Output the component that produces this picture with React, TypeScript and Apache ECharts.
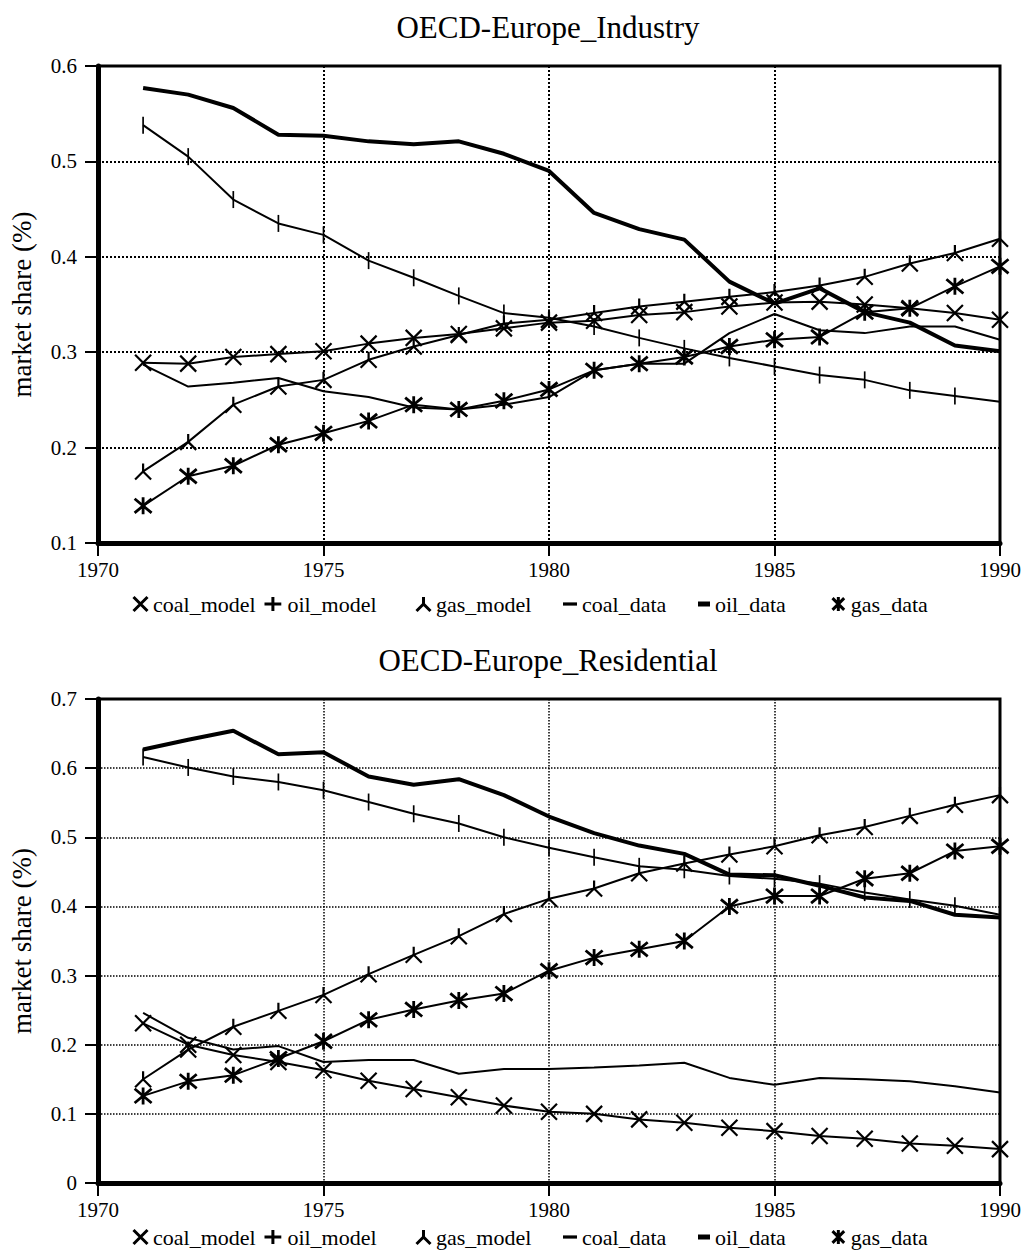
import React, { useEffect, useRef } from "react";
import * as echarts from "echarts";

// ---------- data ----------
const years = [1971, 1972, 1973, 1974, 1975, 1976, 1977, 1978, 1979, 1980, 1981, 1982, 1983, 1984, 1985, 1986, 1987, 1988, 1989, 1990];

const industryTitle = "OECD-Europe_Industry";
const residentialTitle = "OECD-Europe_Residential";
const yAxisName = "market share (%)";
const seriesNames = ["coal_model", "oil_model", "gas_model", "coal_data", "oil_data", "gas_data"];

// OECD-Europe Industry
const indCoalModel = [0.289, 0.288, 0.295, 0.298, 0.301, 0.309, 0.315, 0.319, 0.325, 0.331, 0.333, 0.339, 0.342, 0.348, 0.352, 0.353, 0.350, 0.346, 0.341, 0.334];
const indOilModel = [0.538, 0.505, 0.460, 0.435, 0.423, 0.396, 0.378, 0.359, 0.341, 0.336, 0.327, 0.315, 0.304, 0.294, 0.285, 0.276, 0.271, 0.260, 0.254, 0.248];
const indGasModel = [0.175, 0.206, 0.245, 0.264, 0.271, 0.292, 0.306, 0.318, 0.330, 0.334, 0.341, 0.348, 0.353, 0.358, 0.363, 0.370, 0.379, 0.393, 0.404, 0.419];
const indCoalData = [0.287, 0.264, 0.268, 0.273, 0.259, 0.253, 0.242, 0.240, 0.245, 0.253, 0.281, 0.288, 0.288, 0.320, 0.340, 0.323, 0.320, 0.327, 0.327, 0.313];
const indOilData = [0.577, 0.570, 0.556, 0.528, 0.527, 0.521, 0.518, 0.521, 0.508, 0.490, 0.446, 0.429, 0.418, 0.374, 0.351, 0.367, 0.342, 0.331, 0.307, 0.301];
const indGasData = [0.139, 0.170, 0.181, 0.203, 0.215, 0.228, 0.245, 0.240, 0.249, 0.261, 0.281, 0.288, 0.295, 0.306, 0.313, 0.316, 0.342, 0.346, 0.369, 0.390];

// OECD-Europe Residential
const resCoalModel = [0.231, 0.200, 0.185, 0.175, 0.163, 0.148, 0.136, 0.124, 0.112, 0.103, 0.100, 0.092, 0.087, 0.080, 0.075, 0.068, 0.064, 0.057, 0.054, 0.049];
const resOilModel = [0.616, 0.601, 0.588, 0.580, 0.568, 0.551, 0.534, 0.520, 0.500, 0.485, 0.471, 0.458, 0.453, 0.444, 0.440, 0.433, 0.420, 0.410, 0.401, 0.388];
const resGasModel = [0.150, 0.193, 0.226, 0.249, 0.272, 0.302, 0.330, 0.357, 0.389, 0.411, 0.426, 0.448, 0.462, 0.475, 0.487, 0.503, 0.515, 0.531, 0.547, 0.561];
const resCoalData = [0.246, 0.210, 0.193, 0.198, 0.175, 0.178, 0.178, 0.158, 0.165, 0.165, 0.167, 0.170, 0.174, 0.152, 0.142, 0.152, 0.150, 0.147, 0.140, 0.131];
const resOilData = [0.627, 0.641, 0.654, 0.620, 0.623, 0.588, 0.576, 0.584, 0.561, 0.530, 0.506, 0.488, 0.476, 0.446, 0.445, 0.430, 0.413, 0.408, 0.388, 0.384];
const resGasData = [0.126, 0.147, 0.156, 0.180, 0.205, 0.236, 0.251, 0.264, 0.274, 0.307, 0.326, 0.338, 0.350, 0.400, 0.415, 0.415, 0.440, 0.448, 0.480, 0.487];

const industrySeries = [indCoalModel, indOilModel, indGasModel, indCoalData, indOilData, indGasData];
const residentialSeries = [resCoalModel, resOilModel, resGasModel, resCoalData, resOilData, resGasData];

// ---------- styling / layout ----------
const FONT = '"Liberation Serif", "Times New Roman", serif';
const INK = "#000";

const SERIES_SYMBOL: Record<string, string> = {
  coal_model: "path://M0,0L10,10M10,0L0,10",
  oil_model: "path://M0,5L0,5M10,5L10,5M5,0L5,10",
  gas_model: "path://M5,0L5,5M5,5L0,10M5,5L10,10",
  coal_data: "none",
  oil_data: "none",
  gas_data: "path://M1,1L11,11M11,1L1,11M6,0L6,12",
};
const SERIES_SYMBOL_SIZE: Record<string, number | number[]> = {
  coal_model: 16,
  oil_model: [10, 17],
  gas_model: 16,
  coal_data: 0,
  oil_data: 0,
  gas_data: 17,
};
const LINE_WIDTH: Record<string, number> = {
  coal_model: 2, oil_model: 2, gas_model: 2, coal_data: 2, oil_data: 4, gas_data: 2,
};

const LEGEND_ICON: Record<string, string> = {
  coal_model: "path://M0,0L10,10M10,0L0,10",
  oil_model: "path://M0,7.5L18,7.5M9,0L9,15",
  gas_model: "path://M5,0L5,5M5,5L0,10M5,5L10,10",
  coal_data: "path://M0,0L13,0L13,3L0,3Z",
  oil_data: "path://M0,0L12,0L12,5L0,5Z",
  gas_data: "path://M1,1L11,11M11,1L1,11M6,0L6,12",
};
const LEGEND_ICON_WIDTH: Record<string, number> = {
  coal_model: 15, oil_model: 19, gas_model: 15, coal_data: 14, oil_data: 12, gas_data: 15,
};
const LEGEND_LEFT = [132, 263, 415, 563, 698, 831];

const charts = [
  { title: industryTitle, values: industrySeries, yMin: 0.1, yMax: 0.6, gridTop: 66, gridHeight: 477, titleTop: 7, legendTop: 593, gridLineW: 2 },
  { title: residentialTitle, values: residentialSeries, yMin: 0, yMax: 0.7, gridTop: 699, gridHeight: 484, titleTop: 640, legendTop: 1226, gridLineW: 1.5 },
];

function buildOption() {
  const title: any[] = [];
  const grid: any[] = [];
  const xAxis: any[] = [];
  const yAxis: any[] = [];
  const legend: any[] = [];
  const series: any[] = [];

  charts.forEach((c, gi) => {
    title.push({
      text: c.title,
      left: 543,
      top: c.titleTop,
      textAlign: "center",
      textStyle: { fontFamily: FONT, fontSize: 31, fontWeight: "normal", color: INK },
    });
    grid.push({
      left: 97,
      top: c.gridTop,
      width: 903,
      height: c.gridHeight,
      show: true,
      borderColor: INK,
      borderWidth: 3,
      backgroundColor: "transparent",
    });
    xAxis.push({
      gridIndex: gi,
      type: "value",
      min: 1970,
      max: 1990,
      interval: 5,
      axisLine: { show: true, onZero: false, lineStyle: { color: INK, width: 5 } },
      axisTick: { show: true, length: 13, lineStyle: { color: INK, width: 2 } },
      axisLabel: {
        color: INK, fontFamily: FONT, fontSize: 21, margin: 16,
        formatter: (v: number) => String(v),
      },
      splitLine: { show: true, lineStyle: { color: INK, type: "dotted", width: c.gridLineW } },
    });
    yAxis.push({
      gridIndex: gi,
      type: "value",
      min: c.yMin,
      max: c.yMax,
      interval: 0.1,
      name: yAxisName,
      nameLocation: "middle",
      nameGap: 63,
      nameTextStyle: { fontFamily: FONT, fontSize: 27, color: INK },
      axisLine: { show: true, lineStyle: { color: INK, width: 5 } },
      axisTick: { show: true, length: 13, lineStyle: { color: INK, width: 2 } },
      axisLabel: {
        color: INK, fontFamily: FONT, fontSize: 21, margin: 21,
        formatter: (v: number) => String(Math.round(v * 10) / 10),
      },
      splitLine: { show: true, lineStyle: { color: INK, type: "dotted", width: c.gridLineW } },
    });

    seriesNames.forEach((name, si) => {
      const values = c.values[si];
      series.push({
        type: "line",
        name,
        xAxisIndex: gi,
        yAxisIndex: gi,
        data: years.map((yr, i) => [yr, values[i]]),
        symbol: SERIES_SYMBOL[name],
        symbolSize: SERIES_SYMBOL_SIZE[name],
        showSymbol: SERIES_SYMBOL[name] !== "none",
        color: INK,
        lineStyle: { color: INK, width: LINE_WIDTH[name] },
        itemStyle: { color: INK, borderColor: INK, borderWidth: name === "gas_data" ? 2.8 : 2.2 },
        emphasis: { disabled: true },
        z: name === "oil_data" ? 3 : 2,
      });

      const isDash = name === "coal_data" || name === "oil_data";
      legend.push({
        data: [name],
        left: LEGEND_LEFT[si],
        top: c.legendTop,
        padding: 0,
        itemWidth: LEGEND_ICON_WIDTH[name],
        itemHeight: 14,
        itemGap: 0,
        icon: LEGEND_ICON[name],
        selectedMode: false,
        textStyle: { fontFamily: FONT, fontSize: 22, color: INK, padding: [0, 0, 0, 0] },
        itemStyle: isDash
          ? { color: INK, borderColor: INK, borderWidth: 0 }
          : { color: INK, borderColor: INK, borderWidth: 3 },
        lineStyle: { color: INK, width: 0 },
      });
    });
  });

  return {
    animation: false,
    backgroundColor: "#fff",
    textStyle: { fontFamily: FONT },
    title,
    grid,
    xAxis,
    yAxis,
    legend,
    series,
  };
}

export default function App() {
  const ref = useRef<HTMLDivElement>(null);
  useEffect(() => {
    if (!ref.current) return;
    const chart = echarts.init(ref.current, undefined, { renderer: "svg" });
    chart.setOption(buildOption() as any);
    return () => chart.dispose();
  }, []);
  return (
    <div
      ref={ref}
      style={{ position: "absolute", left: 0, top: 0, width: 1029, height: 1255, background: "#fff" }}
    />
  );
}
